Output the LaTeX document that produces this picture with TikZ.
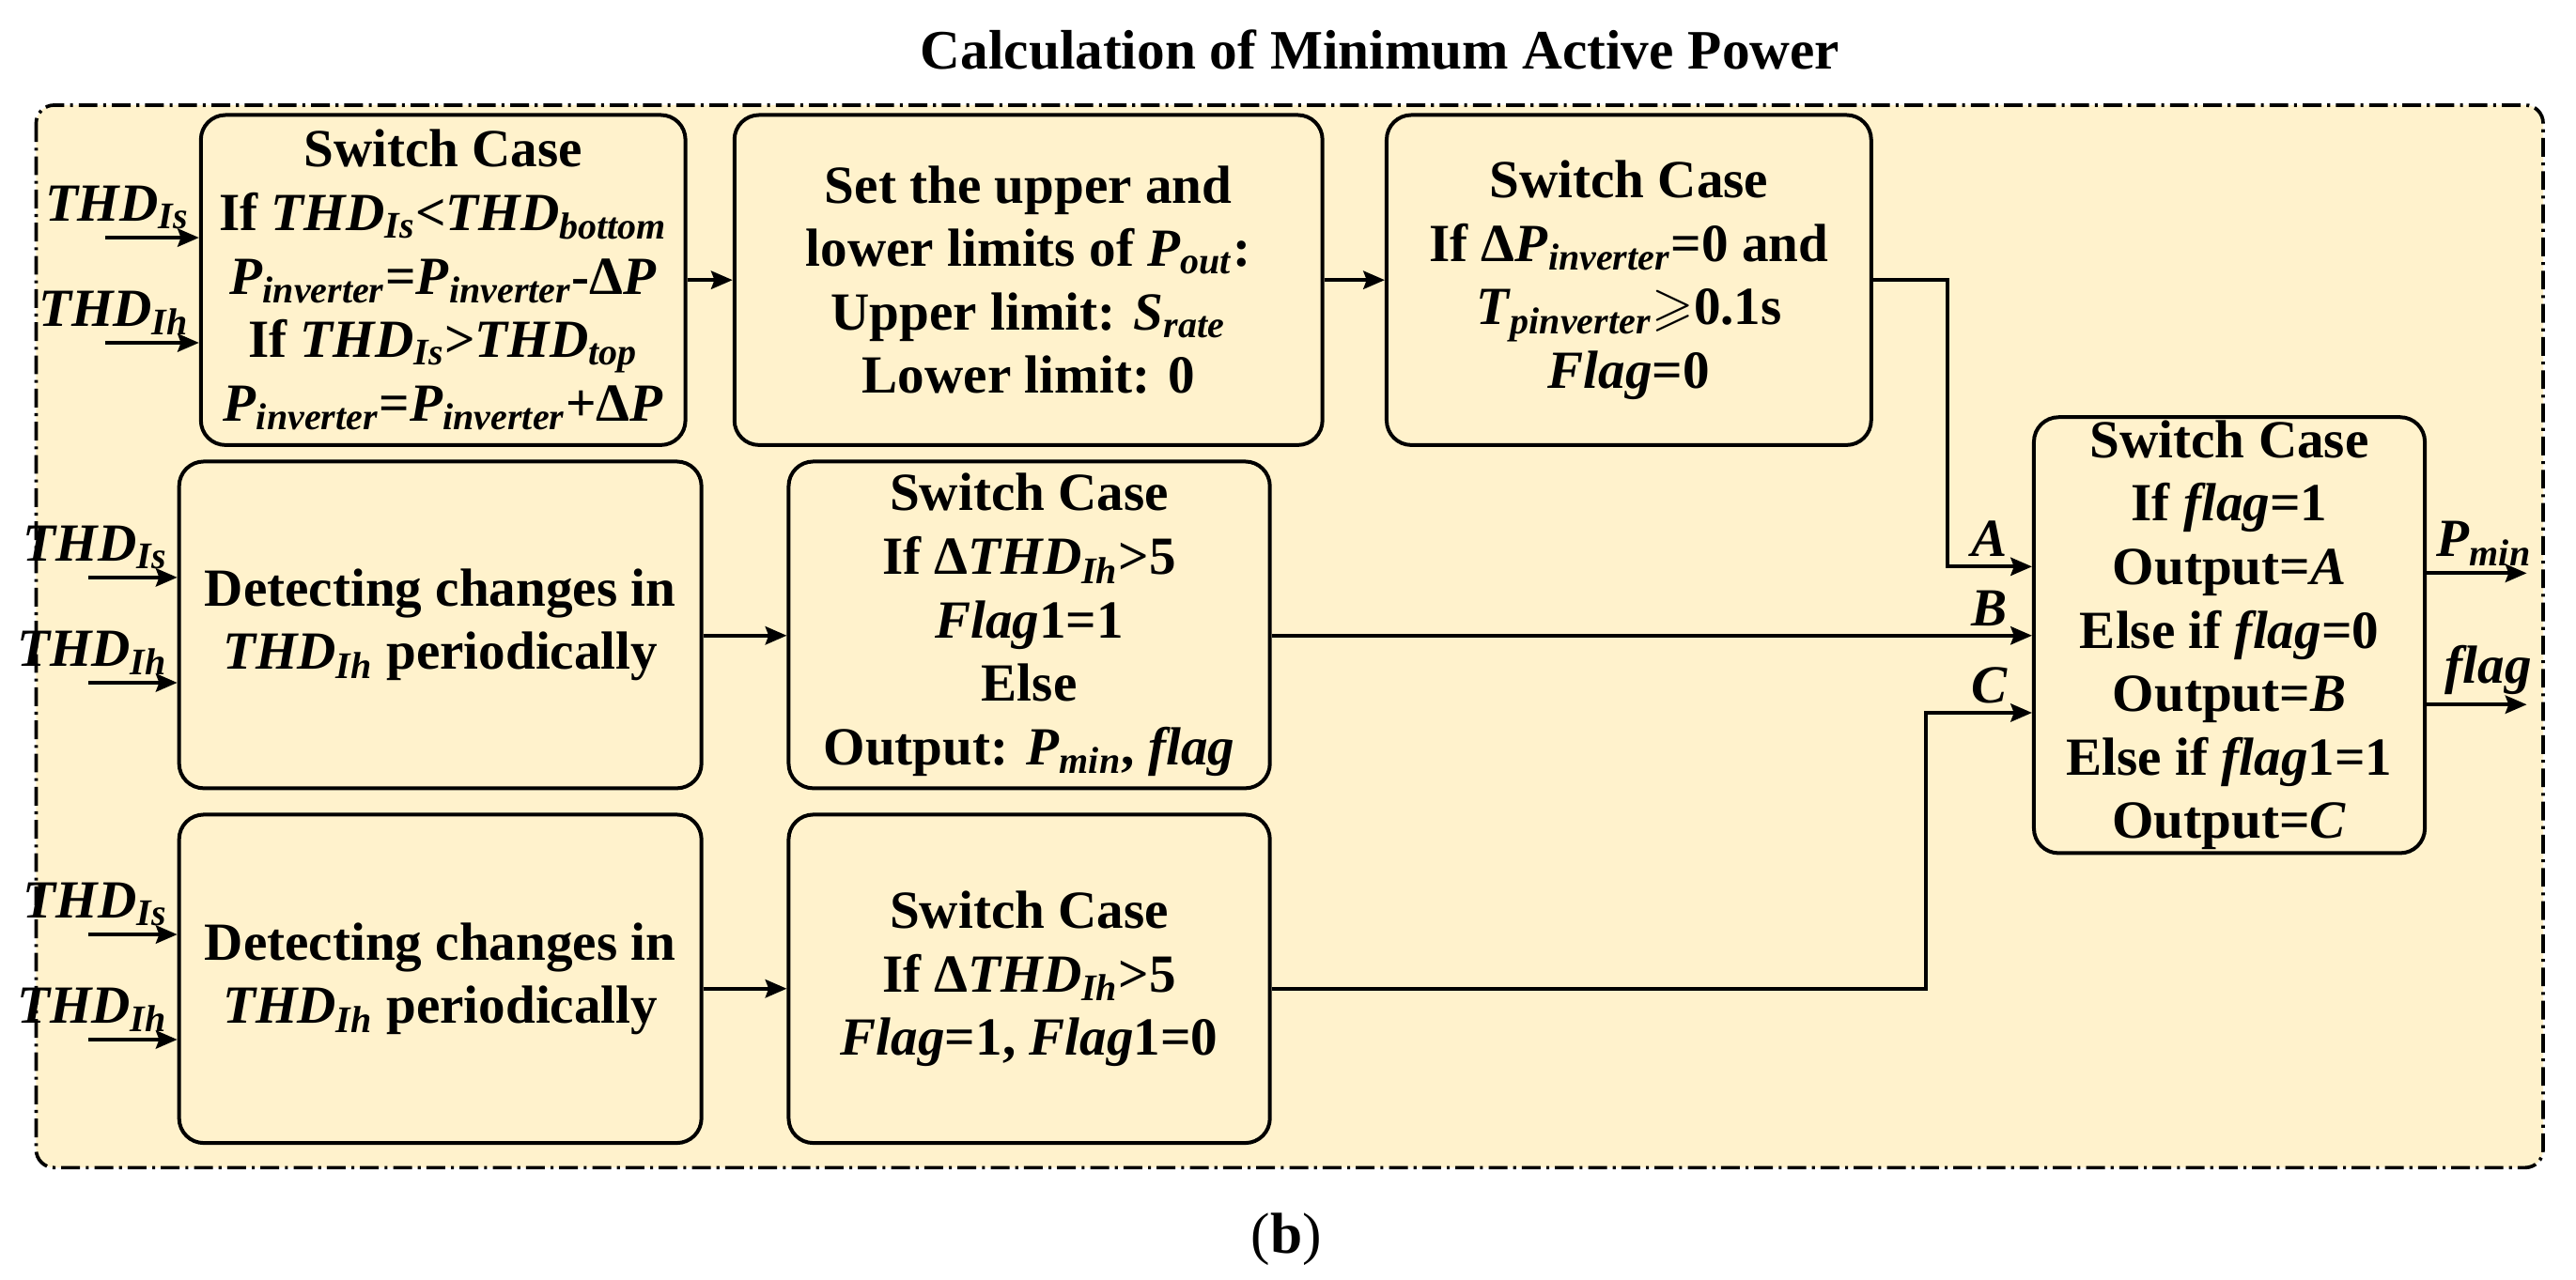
\documentclass[tikz,border=0pt]{standalone}
\usepackage{fontspec}
\setmainfont{Liberation Serif}
\usepackage{amssymb}
\usetikzlibrary{arrows.meta,positioning}
\definecolor{panelfill}{HTML}{FFF2CC}
\newcommand{\vs}[2]{\textit{#1}\textsubscript{\textit{#2}}}
\tikzset{
    block/.style={draw, fill=panelfill, rounded corners=0.3cm, line width=1.3pt,
        align=center, inner sep=0pt},
    arr/.style={-{Stealth[length=0.26cm,width=0.22cm,inset=0.04cm]}, line width=1.3pt},
    inlbl/.style={anchor=base east, xshift=0.02cm, yshift=0.2cm},
    sellbl/.style={anchor=base east, xshift=-0.16cm, yshift=0.12cm},
    outlbl/.style={anchor=base east, xshift=0.2cm, yshift=0.2cm},
    panel/.style={draw, fill=panelfill, rounded corners=0.22cm, line width=1.2pt,
        dash pattern=on 6.5pt off 2pt on 1pt off 2pt}
}

\begin{document}
\begin{tikzpicture}[x=0.02cm, y=-0.02cm,
    every node/.style={font=\fontsize{18.6}{22}\selectfont\bfseries}]

    \useasboundingbox (0,0) rectangle (1568,779);

    % Panel and title.
    \draw[panel] (22,64) rectangle (1548,711);
    \node[anchor=base, font=\fontsize{19.3}{23}\selectfont\bfseries] (ttl) at (840,42)
        {Calculation of Minimum Active Power};
    \node[anchor=base, font=\fontsize{20}{24}\selectfont] (cap) at (783,763) {(\textbf{b})};

    % Blocks.
    \node[block, minimum width=5.9cm, minimum height=4.02cm] (b1) at (269.75,170.5)
        {Switch Case\\If \vs{THD}{Is}<\vs{THD}{bottom}\\
         \vs{P}{inverter}=\vs{P}{inverter}-Δ\textit{P}\\If \vs{THD}{Is}>\vs{THD}{top}\\
         \vs{P}{inverter}=\vs{P}{inverter}+Δ\textit{P}};
    \node[block, minimum width=7.16cm, minimum height=4.02cm] (b2) at (626,170.5)
        {Set the upper and\\lower limits of \vs{P}{out}:\\Upper limit: \vs{S}{rate}\\Lower limit: 0};
    \node[block, minimum width=5.9cm, minimum height=4.02cm] (b3) at (991.5,170.5)
        {Switch Case\\If Δ\vs{P}{inverter}=0 and\\\vs{T}{pinverter}$\geqslant$0.1s\\\textit{Flag}=0};
    \node[block, minimum width=6.36cm, minimum height=3.98cm] (b4) at (268,380.5)
        {Detecting changes in\\\vs{THD}{Ih} periodically};
    \node[block, minimum width=5.86cm, minimum height=3.98cm] (b5) at (626.5,380.5)
        {Switch Case\\If Δ\vs{THD}{Ih}>5\\\textit{Flag}1=1\\Else\\Output: \vs{P}{min}, \textit{flag}};
    \node[block, minimum width=6.36cm, minimum height=4.0cm] (b6) at (268,596)
        {Detecting changes in\\\vs{THD}{Ih} periodically};
    \node[block, minimum width=5.86cm, minimum height=4.0cm] (b7) at (626.5,596)
        {Switch Case\\If Δ\vs{THD}{Ih}>5\\\textit{Flag}=1, \textit{Flag}1=0};
    \node[block, minimum width=4.76cm, minimum height=5.31cm] (b8) at (1357,386.75)
        {Switch Case\\If \textit{flag}=1\\Output=\textit{A}\\Else if \textit{flag}=0\\
         Output=\textit{B}\\Else if \textit{flag}1=1\\Output=\textit{C}};

    % Inputs.
    \foreach \n/\bx/\xx/\yy/\sb in {1/b1/64/144.7/Is, 2/b1/64/208.7/Ih, 3/b4/54/351.6/Is,
                                    4/b4/54/415.7/Ih, 5/b6/54/569/Is, 6/b6/54/633/Ih}{
        \coordinate (in\n) at (\xx,\yy);
        \draw[arr] (in\n) -- (in\n -| \bx.west) node[inlbl]{\vs{THD}{\sb}};
    }

    % Connectors.
    \coordinate (ya) at (0,345);
    \coordinate (yb) at (0,387);
    \coordinate (yc) at (0,434);
    \coordinate (yd) at (0,602);
    \draw[arr] (b1) -- (b2);
    \draw[arr] (b2) -- (b3);
    \draw[arr] (b4.east |- yb) -- (b5.west |- yb);
    \draw[arr] (b6.east |- yd) -- (b7.west |- yd);
    \draw[arr] (b3.east) -- ++(45.5,0) |- (b8.west |- ya) node[sellbl]{\textit{A}};
    \draw[arr] (b5.east |- yb) -- (b8.west |- yb) node[sellbl]{\textit{B}};
    \draw[arr] (b7.east |- yd) -- ++(398,0) |- (b8.west |- yc) node[sellbl]{\textit{C}};

    % Outputs.
    \coordinate (out1) at (1538,349);
    \coordinate (out2) at (1538,429);
    \draw[arr] (out1 -| b8.east) -- (out1) node[outlbl]{\vs{P}{min}};
    \draw[arr] (out2 -| b8.east) -- (out2) node[outlbl, yshift=0.06cm]{\textit{flag}};

\end{tikzpicture}
\end{document}
